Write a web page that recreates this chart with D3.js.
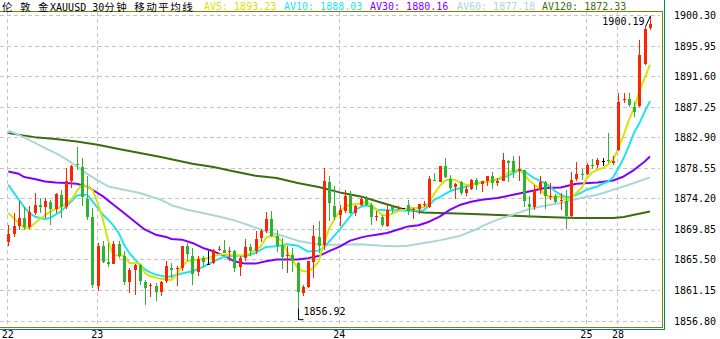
<!DOCTYPE html>
<html>
<head>
<meta charset="utf-8">
<script src="https://cdn.jsdelivr.net/npm/d3@7"></script>
<style>
  body { margin: 0; background: #fff; }
  svg { display: block; }
</style>
</head>
<body>
<div id="chart"></div>
<script>
// Day labels on the time axis and the candle index where each day starts
const dayLabels = ["22", "23", "24", "25", "28"];
const dayStartIdx = [0, 17, 63, 110, 116];

// Price ticks on the right axis
const yTicks = [1900.30, 1895.95, 1891.60, 1887.25, 1882.90, 1878.55,
                1874.20, 1869.85, 1865.50, 1861.15, 1856.80];

// 30 minute candles, XAUUSD
const candleOpen = [
  1867.93,1869.16,1870.30,1871.44,1870.20,1872.19,1873.29,1873.05,1873.71,1872.76,
  1874.71,1872.96,1876.74,1879.05,1878.65,1874.14,1871.48,1861.82,1867.46,1865.18,
  1864.90,1867.74,1866.04,1862.38,1864.05,1864.76,1862.34,1861.67,1861.77,1860.82,
  1862.34,1864.29,1864.05,1864.29,1867.46,1866.04,1863.66,1865.71,1864.86,1865.00,
  1866.79,1866.89,1866.51,1866.65,1864.37,1865.71,1867.22,1866.65,1868.64,1869.59,
  1871.30,1868.88,1867.60,1865.94,1866.14,1865.00,1860.73,1861.53,1865.23,1868.70,
  1867.46,1876.51,1873.14,1871.87,1872.48,1874.71,1872.11,1873.29,1874.14,1873.29,
  1871.48,1871.54,1870.30,1872.96,1872.76,1872.79,1873.29,1872.48,1872.68,1873.24,
  1872.96,1876.84,1876.60,1878.83,1876.94,1875.75,1876.46,1874.95,1875.52,1876.84,
  1876.13,1876.60,1877.41,1876.37,1876.74,1879.54,1879.44,1878.02,1878.16,1873.43,
  1872.96,1875.32,1876.46,1874.38,1874.57,1873.81,1873.76,1871.62,1876.94,1877.69,
  1877.69,1878.97,1878.97,1879.44,1879.59,1879.22,1881.11,1888.22,1888.31,1887.26,
  1887.36,1893.33,1898.41];
const candleHigh = [
  1870.44,1872.15,1873.86,1873.00,1873.15,1874.99,1874.28,1874.28,1874.00,1874.99,
  1875.42,1878.55,1878.97,1881.53,1879.97,1877.31,1872.86,1867.84,1868.07,1867.84,
  1868.07,1868.07,1866.65,1864.33,1864.90,1864.90,1862.62,1862.20,1862.20,1862.39,
  1865.23,1865.04,1864.52,1867.46,1867.84,1867.13,1866.04,1866.04,1866.65,1867.03,
  1867.35,1868.21,1867.27,1866.89,1866.04,1868.41,1867.74,1869.49,1869.83,1872.19,
  1872.33,1869.73,1868.55,1867.36,1867.13,1865.09,1861.91,1865.23,1870.44,1870.91,
  1878.51,1877.31,1875.99,1873.29,1875.32,1875.18,1873.29,1874.47,1874.57,1873.53,
  1872.33,1871.87,1873.29,1873.29,1873.15,1872.86,1874.00,1872.82,1873.43,1873.76,
  1877.31,1877.79,1878.83,1879.93,1877.55,1876.37,1876.60,1875.99,1876.94,1877.08,
  1876.60,1877.41,1877.88,1877.08,1880.72,1879.69,1880.25,1880.25,1878.26,1874.57,
  1876.13,1877.41,1876.60,1876.37,1874.85,1874.95,1875.32,1877.88,1879.30,1878.36,
  1879.26,1879.78,1879.97,1879.93,1883.48,1880.16,1889.25,1889.25,1889.17,1887.97,
  1896.74,1898.55,1900.19];
const candleLow = [
  1867.36,1868.74,1869.73,1869.73,1869.88,1871.87,1872.15,1871.34,1870.44,1872.15,
  1871.34,1872.72,1875.70,1878.26,1873.05,1871.15,1861.49,1860.96,1865.00,1864.37,
  1864.90,1865.75,1861.91,1860.73,1860.49,1861.91,1859.07,1860.11,1859.64,1860.25,
  1862.16,1862.91,1861.77,1863.81,1865.23,1861.91,1863.09,1864.43,1864.66,1864.90,
  1866.65,1866.42,1865.23,1863.72,1863.19,1865.33,1865.94,1866.28,1867.93,1869.26,
  1868.70,1866.51,1864.15,1863.58,1863.66,1856.92,1860.25,1861.49,1862.87,1866.42,
  1866.89,1870.91,1871.15,1870.20,1872.11,1872.01,1871.62,1873.14,1873.14,1870.44,
  1870.91,1870.12,1870.12,1872.11,1872.58,1872.72,1871.87,1871.25,1872.01,1872.96,
  1872.82,1876.60,1876.60,1877.08,1875.42,1874.10,1874.71,1874.57,1875.32,1875.42,
  1875.04,1875.99,1875.52,1875.89,1876.60,1876.46,1877.08,1876.60,1872.96,1871.40,
  1872.48,1874.85,1872.68,1873.90,1873.53,1872.48,1869.83,1871.40,1876.60,1876.74,
  1877.55,1878.36,1878.55,1878.83,1879.22,1878.97,1880.87,1887.74,1887.26,1885.84,
  1887.26,1893.19,1898.17];
const candleClose = [
  1869.12,1870.30,1871.44,1870.20,1872.29,1873.29,1873.00,1873.86,1872.72,1874.85,
  1873.05,1876.70,1878.83,1878.90,1874.38,1871.54,1861.77,1867.46,1865.23,1864.90,
  1867.74,1866.04,1862.38,1864.05,1864.76,1862.53,1861.53,1861.82,1860.96,1862.30,
  1864.52,1863.95,1864.23,1867.46,1866.32,1863.48,1865.57,1865.08,1864.86,1866.89,
  1866.99,1866.42,1866.65,1864.29,1865.71,1867.27,1866.65,1868.41,1869.59,1871.30,
  1868.88,1867.50,1865.85,1866.14,1865.23,1860.82,1861.53,1865.23,1868.88,1867.36,
  1876.60,1873.53,1871.62,1872.58,1874.57,1872.11,1873.14,1874.10,1873.29,1871.62,
  1871.62,1870.44,1872.58,1872.68,1872.96,1872.79,1872.43,1872.68,1873.43,1873.43,
  1876.94,1876.70,1878.83,1877.23,1875.66,1876.23,1874.95,1875.52,1876.84,1876.13,
  1876.60,1877.31,1876.37,1876.60,1879.69,1879.30,1877.88,1878.36,1873.76,1872.96,
  1875.42,1876.46,1874.47,1874.57,1873.76,1874.00,1871.62,1876.74,1877.69,1877.55,
  1878.97,1878.83,1879.69,1879.44,1879.44,1879.44,1887.97,1888.36,1887.50,1886.55,
  1894.61,1898.27,1899.02];

// Moving averages: [candle index, value]
const av5 = [[0,1872.11],[3,1869.98],[4,1869.98],[6,1871.25],[8,1872.34],[10,1872.96],[12,1874.00],
  [13,1875.18],[14,1876.13],[15,1875.89],[16,1875.42],[17,1873.53],[18,1871.16],[19,1868.07],
  [20,1866.04],[22,1866.04],[23,1865.00],[25,1864.90],[26,1863.58],[27,1863.09],[29,1862.73],
  [31,1862.55],[32,1863.34],[33,1864.52],[34,1865.23],[36,1865.47],[38,1865.71],[40,1866.18],
  [42,1866.18],[44,1866.04],[46,1866.32],[48,1867.36],[49,1868.55],[50,1868.88],[51,1868.70],
  [52,1868.07],[53,1866.65],[54,1865.47],[55,1864.29],[56,1863.81],[57,1863.81],[58,1864.29],
  [59,1865.18],[60,1867.74],[61,1869.88],[62,1871.30],[63,1872.29],[64,1872.96],[65,1873.29],
  [67,1873.43],[68,1873.71],[69,1873.29],[70,1872.58],[71,1871.87],[72,1871.72],[73,1872.01],
  [74,1872.34],[76,1872.82],[78,1872.82],[79,1872.96],[80,1873.57],[81,1874.85],[82,1875.92],
  [83,1876.70],[84,1876.90],[85,1876.81],[86,1876.41],[87,1876.13],[88,1876.06],[89,1876.27],
  [90,1876.49],[91,1876.56],[93,1876.94],[94,1877.31],[95,1877.88],[96,1878.16],[97,1878.26],
  [98,1877.69],[99,1876.74],[100,1876.13],[101,1875.66],[102,1874.71],[103,1874.38],[104,1874.47],
  [105,1874.38],[106,1874.00],[107,1874.24],[108,1874.95],[109,1875.66],[110,1877.08],[111,1877.88],
  [112,1878.26],[113,1878.50],[114,1878.97],[115,1879.68],[116,1881.39],[117,1883.24],[118,1885.37],
  [119,1887.08],[120,1889.49],[121,1891.34],[122,1893.23]];
const av10 = [[0,1876.13],[1,1875.04],[2,1874.00],[3,1872.96],[4,1872.11],[5,1871.62],[6,1871.40],
  [7,1871.25],[8,1871.40],[9,1871.87],[10,1872.34],[11,1873.05],[12,1873.76],[13,1874.57],
  [14,1874.71],[15,1874.71],[16,1873.76],[17,1872.82],[18,1871.87],[19,1871.16],[20,1870.30],
  [21,1869.26],[22,1867.60],[23,1866.42],[24,1865.57],[25,1864.76],[26,1864.05],[27,1863.66],
  [28,1863.34],[29,1863.19],[30,1863.01],[31,1863.09],[33,1863.48],[35,1863.81],[37,1864.43],
  [39,1865.23],[41,1865.85],[43,1866.04],[45,1865.94],[47,1866.42],[49,1867.27],[51,1867.36],
  [53,1867.67],[55,1867.46],[57,1866.61],[59,1866.75],[60,1867.17],[61,1868.03],[62,1868.88],
  [63,1869.73],[64,1870.69],[65,1871.62],[66,1872.51],[67,1873.00],[68,1873.22],[69,1873.00],
  [70,1872.58],[72,1872.51],[74,1872.51],[76,1872.43],[78,1872.43],[79,1872.51],[80,1873.22],
  [81,1874.00],[82,1874.35],[83,1874.78],[84,1875.21],[85,1875.49],[87,1875.85],[89,1876.34],
  [90,1876.46],[92,1876.70],[94,1877.08],[96,1877.79],[97,1878.19],[98,1878.12],[99,1877.55],
  [100,1877.08],[102,1876.37],[103,1875.89],[104,1875.18],[105,1874.71],[106,1874.38],[107,1874.38],
  [108,1874.71],[109,1875.04],[110,1875.42],[111,1875.66],[112,1875.89],[113,1876.27],[114,1876.56],
  [115,1877.20],[116,1878.50],[117,1879.93],[118,1881.70],[119,1883.59],[120,1884.90],[121,1886.55],
  [122,1888.03]];
const av30 = [[0,1878.02],[2,1877.69],[3,1877.23],[5,1876.94],[7,1876.60],[9,1876.46],[11,1876.37],
  [13,1876.27],[15,1875.89],[16,1875.42],[18,1874.47],[20,1873.29],[22,1872.11],[24,1870.91],
  [26,1869.73],[28,1869.02],[30,1868.70],[31,1868.41],[33,1868.31],[35,1867.84],[37,1867.13],
  [39,1866.65],[41,1866.04],[43,1865.23],[45,1864.90],[47,1864.90],[49,1865.23],[51,1865.47],
  [53,1865.47],[55,1865.47],[57,1865.68],[59,1865.97],[61,1866.68],[63,1867.32],[65,1868.17],
  [67,1868.60],[68,1868.78],[70,1869.02],[72,1869.26],[74,1869.73],[76,1870.20],[78,1870.37],
  [80,1870.87],[82,1871.58],[84,1872.58],[86,1873.29],[88,1873.71],[90,1874.00],[93,1874.24],
  [96,1874.71],[99,1875.18],[102,1875.66],[105,1875.75],[108,1876.27],[112,1876.46],[115,1876.74],
  [117,1877.31],[119,1878.26],[121,1879.44],[122,1880.16]];
const av60 = [[0,1883.85],[2,1883.24],[5,1882.14],[7,1881.35],[9,1880.64],[11,1879.78],[13,1878.73],
  [15,1877.69],[17,1876.74],[19,1875.89],[22,1875.42],[25,1874.95],[29,1874.00],[31,1873.22],
  [34,1872.58],[37,1872.11],[40,1871.62],[43,1871.06],[46,1870.30],[49,1869.49],[52,1868.88],
  [55,1868.17],[58,1867.74],[61,1867.60],[63,1867.60],[67,1867.67],[71,1867.46],[74,1867.36],
  [76,1867.46],[79,1867.84],[82,1868.21],[86,1868.88],[89,1869.80],[90,1870.20],[93,1871.16],
  [96,1871.87],[99,1872.68],[102,1873.15],[105,1873.53],[108,1874.10],[112,1874.71],[115,1875.42],
  [118,1876.13],[122,1877.18]];
const av120 = [[0,1883.48],[5,1882.91],[9,1882.63],[13,1882.29],[17,1881.82],[21,1881.21],[25,1880.64],
  [29,1880.07],[31,1879.76],[35,1879.12],[39,1878.65],[43,1878.02],[47,1877.41],[51,1877.08],
  [55,1876.37],[59,1875.80],[63,1875.04],[67,1874.47],[71,1873.57],[75,1872.68],[79,1872.19],
  [82,1872.11],[87,1872.01],[92,1871.87],[96,1871.72],[102,1871.54],[108,1871.40],[115,1871.40],
  [117,1871.54],[119,1871.87],[122,1872.33]];

// Legend labels in the header
const maNames = ["AV5", "AV10", "AV30", "AV60", "AV120"];
const maLast = ["1893.23", "1888.03", "1880.16", "1877.18", "1872.33"];

// Styles
const width = 720;
const height = 339;
const upColor = "#ff2400";
const downColor = "#30b430";
const flatColor = "#000000";
const maColors = ["#d6e400", "#1ee4f0", "#8000ff", "#a9d6d8", "#3b6c10"];
const monoFont = "'DejaVu Sans Mono', monospace";
const cjkFont = "'Noto Sans CJK SC', sans-serif";

const candles = candleOpen.map((o, i) => ({
  i: i, open: o, high: candleHigh[i], low: candleLow[i], close: candleClose[i]
}));

const x = d3.scaleLinear().domain([0, candles.length - 1]).range([8.3, 650]);
const y = d3.scaleLinear().domain([1856.80, 1900.30]).range([320.5, 15]);

const svg = d3.select("#chart").append("svg")
    .attr("width", width)
    .attr("height", height)
    .attr("viewBox", [0, 0, width, height]);

svg.append("rect").attr("width", width).attr("height", height).attr("fill", "#fff");

// Dashed grid
const grid = svg.append("g")
    .attr("stroke", "#c4c4c4")
    .attr("stroke-dasharray", "4,3");
grid.selectAll("line.h")
  .data(yTicks)
  .join("line")
    .attr("class", "h")
    .attr("x1", 0).attr("x2", 660)
    .attr("y1", d => Math.round(y(d)) + 0.5)
    .attr("y2", d => Math.round(y(d)) + 0.5);
grid.selectAll("line.v")
  .data(dayStartIdx)
  .join("line")
    .attr("class", "v")
    .attr("y1", 12).attr("y2", 327)
    .attr("x1", d => Math.round(x(d)) - 0.5)
    .attr("x2", d => Math.round(x(d)) - 0.5);

// Moving average lines
const line = d3.line().x(d => x(d[0])).y(d => y(d[1]));
const maSeries = [av5, av10, av30, av60, av120];
svg.append("g")
    .attr("fill", "none")
    .attr("stroke-width", 2)
    .attr("stroke-linejoin", "round")
  .selectAll("path")
  .data(maSeries.map((s, k) => ({s, k})).reverse())
  .join("path")
    .attr("stroke", d => maColors[d.k])
    .attr("d", d => line(d.s));

// Candles: red up, green down, black flat
const colorOf = d => d.close > d.open ? upColor : d.close < d.open ? downColor : flatColor;
const candle = svg.append("g")
  .selectAll("g")
  .data(candles)
  .join("g")
    .attr("shape-rendering", "crispEdges");
candle.append("line")
    .attr("x1", d => Math.round(x(d.i)) + 0.5)
    .attr("x2", d => Math.round(x(d.i)) + 0.5)
    .attr("y1", d => y(d.high))
    .attr("y2", d => y(d.low))
    .attr("stroke", colorOf);
candle.append("rect")
    .attr("x", d => Math.round(x(d.i)) - 1)
    .attr("width", 3)
    .attr("y", d => Math.round(y(Math.max(d.open, d.close))))
    .attr("height", d => Math.max(1, Math.round(Math.abs(y(d.open) - y(d.close)))))
    .attr("fill", colorOf);

// High / low markers
const lowC = candles[d3.minIndex(candles, d => d.low)];
const highC = candles[d3.maxIndex(candles, d => d.high)];
const lx = Math.round(x(lowC.i)) + 0.5, ly = y(lowC.low);
svg.append("path")
    .attr("d", `M${lx},${ly - 11}V${ly}H${lx + 5}`)
    .attr("fill", "none").attr("stroke", "#000");
svg.append("text")
    .attr("x", lx + 5).attr("y", ly - 5)
    .attr("font-family", monoFont).attr("font-size", 10)
    .text(d3.format(".2f")(lowC.low));
const hx = Math.round(x(highC.i)) + 0.5, hy = y(highC.high);
svg.append("path")
    .attr("d", `M${hx - 5},${hy + 11}L${hx},${hy}`)
    .attr("fill", "none").attr("stroke", "#000");
svg.append("text")
    .attr("x", hx - 6).attr("y", hy + 9)
    .attr("text-anchor", "end")
    .attr("font-family", monoFont).attr("font-size", 10)
    .text(d3.format(".2f")(highC.high));

// Frames
const frame = svg.append("g").attr("fill", "none").attr("shape-rendering", "crispEdges");
frame.append("path").attr("d", "M0,11.5H662.5V327.5H0").attr("stroke", "#808000");
frame.append("path").attr("d", "M664.5,0V329.5H0").attr("stroke", "#008080");

// Right price axis
const yAxis = svg.append("g")
    .attr("transform", "translate(674,0)")
    .call(d3.axisRight(y).tickValues(yTicks).tickFormat(d3.format(".2f")).tickSize(0).tickPadding(0));
yAxis.select(".domain").remove();
yAxis.selectAll("text")
    .attr("font-family", monoFont).attr("font-size", 10).attr("fill", "#000")
    .attr("dy", "0.35em");

// Bottom day axis
const xAxis = svg.append("g")
    .attr("transform", "translate(-1,329)")
    .call(d3.axisBottom(x).tickValues(dayStartIdx).tickFormat((d, i) => dayLabels[i]).tickSize(0).tickPadding(2));
xAxis.select(".domain").remove();
xAxis.selectAll("text")
    .attr("font-family", monoFont).attr("font-size", 10).attr("fill", "#000");

// Header: CJK glyphs a little smaller, padded to a 12px advance
const title = svg.append("text").attr("x", 2).attr("y", 10.5).attr("fill", "#000");
[["伦", true], [" ", false], ["敦", true], [" ", false], ["金", true], ["XAUUSD 30", false],
 ["分钟", true], [" ", false], ["移动平均线", true]].forEach(([t, cjk]) => {
  title.append("tspan")
      .attr("font-family", cjk ? cjkFont : monoFont)
      .attr("font-size", cjk ? 10.5 : 10)
      .attr("letter-spacing", cjk ? 1.5 : 0)
      .style("white-space", "pre")
      .text(t);
});
const headerX = [204, 284, 370, 457, 542];
svg.append("g")
  .selectAll("text")
  .data(maNames)
  .join("text")
    .attr("x", (d, k) => headerX[k])
    .attr("y", 10)
    .attr("font-family", monoFont)
    .attr("font-size", 10)
    .attr("fill", (d, k) => maColors[k])
    .style("white-space", "pre")
    .text((d, k) => `${d}: ${maLast[k]}`);
</script>
</body>
</html>
